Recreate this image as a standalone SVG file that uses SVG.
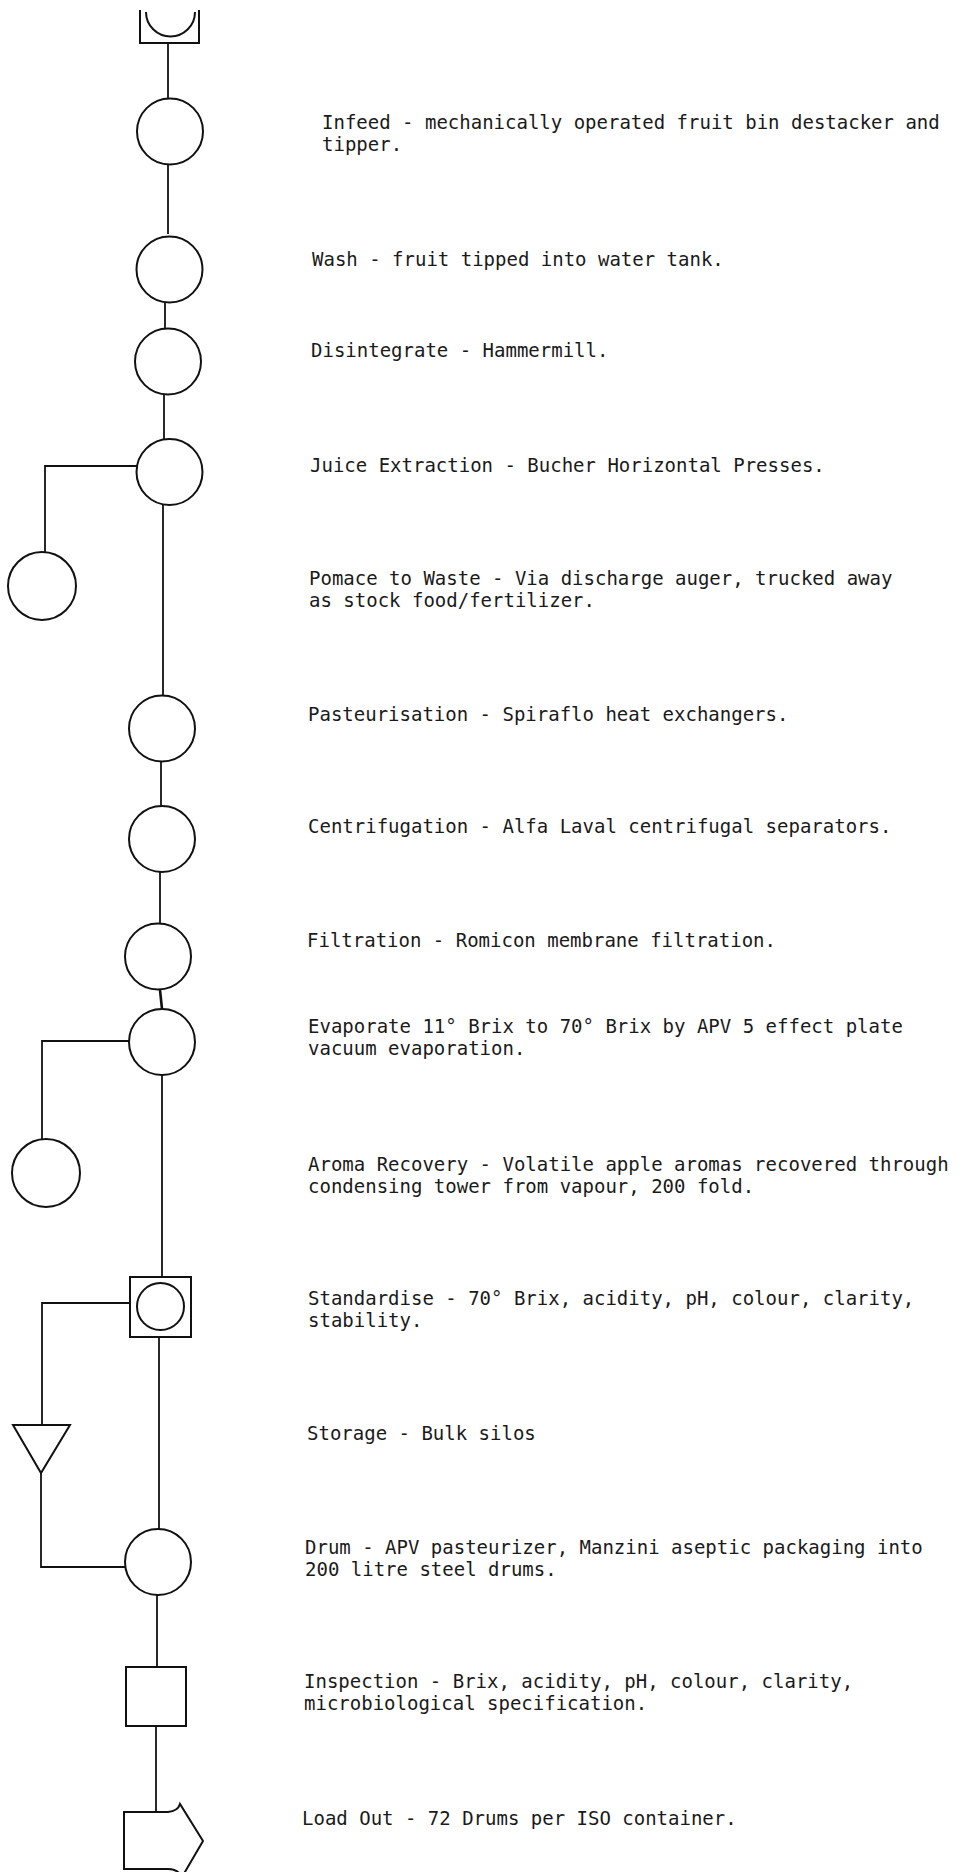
<svg xmlns="http://www.w3.org/2000/svg" width="964" height="1872" viewBox="0 0 964 1872">
<style>
.s{fill:none;stroke:#111;stroke-width:2}
.c{fill:none;stroke:#111;stroke-width:1.8}
text{font-family:"DejaVu Sans Mono","Liberation Mono",monospace;font-size:19px;fill:#1a1a1a}
</style>
<rect width="964" height="1872" fill="#fff"/>
<g id="connectors">
<path class="c" d="M168,44 V98"/>
<path class="c" d="M168,165 V234"/>
<path class="c" d="M165,303 V328"/>
<path class="c" d="M164,395 V439"/>
<path class="c" d="M137,466 H45 V552"/>
<path class="c" d="M163,505 V695"/>
<path class="c" d="M161,762 V806"/>
<path class="c" d="M160,872 V923"/>
<path class="c" d="M160,990 L162,1009" style="stroke-width:2.6"/>
<path class="c" d="M129,1041 H42 V1139"/>
<path class="c" d="M162,1075 V1277"/>
<path class="c" d="M130,1303 H42 V1425"/>
<path class="c" d="M41,1473 V1567 H125"/>
<path class="c" d="M159,1337 V1529"/>
<path class="c" d="M157,1595 V1667"/>
<path class="c" d="M156,1726 V1812"/>
</g>
<g id="receival">
<path class="s" d="M140,10 V43 H199 V10"/>
<path class="s" d="M146,12 A24.5,24.5 0 0 0 195,12"/>
</g>
<g id="infeed">
<circle class="s" cx="170" cy="131.5" r="33"/>
<text x="322" y="129">Infeed - mechanically operated fruit bin destacker and</text>
<text x="322" y="151">tipper.</text>
</g>
<g id="wash">
<circle class="s" cx="169.5" cy="269.5" r="33"/>
<text x="312" y="266">Wash - fruit tipped into water tank.</text>
</g>
<g id="disintegrate">
<circle class="s" cx="168" cy="361.5" r="33"/>
<text x="311" y="357">Disintegrate - Hammermill.</text>
</g>
<g id="juice">
<circle class="s" cx="169.5" cy="472" r="33"/>
<text x="310" y="472">Juice Extraction - Bucher Horizontal Presses.</text>
</g>
<g id="pomace">
<circle class="s" cx="42" cy="586" r="34"/>
<text x="309" y="585">Pomace to Waste - Via discharge auger, trucked away</text>
<text x="309" y="607">as stock food/fertilizer.</text>
</g>
<g id="pasteurisation">
<circle class="s" cx="162" cy="728.5" r="33"/>
<text x="308" y="721">Pasteurisation - Spiraflo heat exchangers.</text>
</g>
<g id="centrifugation">
<circle class="s" cx="162" cy="839" r="33"/>
<text x="308" y="833">Centrifugation - Alfa Laval centrifugal separators.</text>
</g>
<g id="filtration">
<circle class="s" cx="158" cy="956.5" r="33"/>
<text x="307" y="947">Filtration - Romicon membrane filtration.</text>
</g>
<g id="evaporate">
<circle class="s" cx="162" cy="1042" r="33"/>
<text x="308" y="1033">Evaporate 11° Brix to 70° Brix by APV 5 effect plate</text>
<text x="308" y="1055">vacuum evaporation.</text>
</g>
<g id="aroma">
<circle class="s" cx="46" cy="1173" r="34"/>
<text x="308" y="1171">Aroma Recovery - Volatile apple aromas recovered through</text>
<text x="308" y="1193">condensing tower from vapour, 200 fold.</text>
</g>
<g id="standardise">
<rect class="s" x="130" y="1277" width="61" height="60"/>
<circle class="s" cx="160.5" cy="1306.5" r="23.5"/>
<text x="308" y="1305">Standardise - 70° Brix, acidity, pH, colour, clarity,</text>
<text x="308" y="1327">stability.</text>
</g>
<g id="storage">
<path class="s" d="M13,1425 H70 L41,1473 Z"/>
<text x="307" y="1440">Storage - Bulk silos</text>
</g>
<g id="drum">
<circle class="s" cx="158" cy="1562" r="33"/>
<text x="305" y="1554">Drum - APV pasteurizer, Manzini aseptic packaging into</text>
<text x="305" y="1576">200 litre steel drums.</text>
</g>
<g id="inspection">
<rect class="s" x="126" y="1667" width="60" height="59"/>
<text x="304" y="1688">Inspection - Brix, acidity, pH, colour, clarity,</text>
<text x="304" y="1710">microbiological specification.</text>
</g>
<g id="loadout">
<path class="s" d="M124,1812 H168 Q178,1811 180,1804 L203,1841 L182,1877 Q178,1869 168,1869 H124 Z"/>
<text x="302" y="1825">Load Out - 72 Drums per ISO container.</text>
</g>
</svg>
